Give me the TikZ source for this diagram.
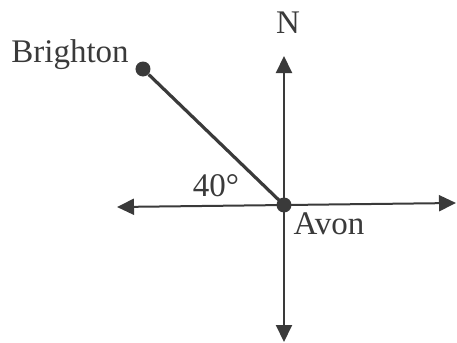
\documentclass[tikz,border=0pt]{standalone}
\usepackage{fontspec}
\setmainfont{Liberation Serif}
\usetikzlibrary{
  arrows.meta,
  positioning
}
\definecolor{Ink}{HTML}{3A3A3A}
\newcommand{\bearingfont}{\fontsize{16.5}{18}\selectfont}
\tikzset{
  % Global typography and reusable line styles.
  every node/.style={font=\bearingfont, text=Ink},
  compass axis/.style={
    {Triangle[length=8.5pt,width=8pt]}-{Triangle[length=8.5pt,width=8pt]},
    draw=Ink,
    line width=1pt
  },
  bearing line/.style={
    draw=Ink,
    line width=1.6pt
  },
  town dot/.style={
    circle,
    fill=Ink,
    minimum size=7.5pt,
    inner sep=0pt
  },
  place label/.style={
    inner sep=1pt
  }
}
\begin{document}
\begin{tikzpicture}[x=0.5pt,y=-0.5pt]
\useasboundingbox (0,0) rectangle (457,343);

% ---------------------------------------------------------------------------
% Compass axes through Avon
% ---------------------------------------------------------------------------
\coordinate (northEnd) at (284,56);
\coordinate (southEnd) at (284,342);
\coordinate (westEnd) at (117,207);
\coordinate (eastEnd) at (456,203);

\draw[compass axis] (southEnd) -- (northEnd);
\draw[compass axis] (westEnd) -- (eastEnd);

% ---------------------------------------------------------------------------
% Towns and the bearing line
% ---------------------------------------------------------------------------
\node[town dot] (avon) at (284,205) {};
\node[town dot] (brighton) at (143,69) {};

\draw[bearing line] (brighton) -- (avon.center);

\node[place label] (northLabel) at (288,23) {N};
\node[place label, left=2pt of brighton, yshift=7pt] (brightonLabel) {Brighton};
\node[place label] (avonLabel) at (329,224) {Avon};
\node[place label] (angleLabel) at (216,186) {40\textdegree};

\end{tikzpicture}
\end{document}
